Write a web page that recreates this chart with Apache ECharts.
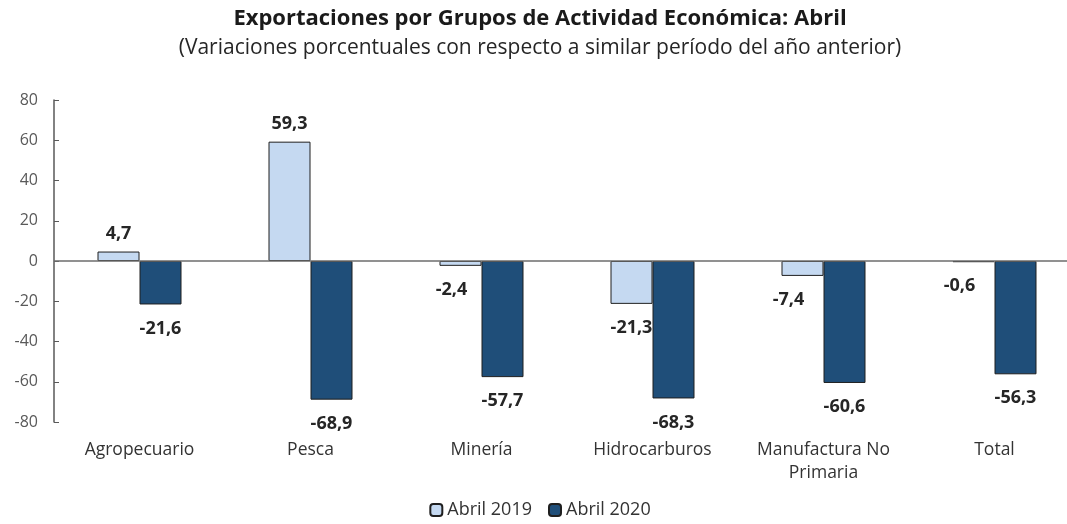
<!DOCTYPE html>
<html>
<head>
<meta charset="utf-8">
<script src="https://cdn.jsdelivr.net/npm/echarts@6/dist/echarts.min.js"></script>
<style>
  html, body { margin: 0; padding: 0; background: #fff; overflow: hidden; }
  #chart { width: 1080px; height: 524px; }
</style>
</head>
<body>
<div id="chart"></div>
<script>
// categories and values
var categories = ['Agropecuario', 'Pesca', 'Minería', 'Hidrocarburos', 'Manufactura No\nPrimaria', 'Total'];
var abril2019 = [4.7, 59.3, -2.4, -21.3, -7.4, -0.6];
var abril2020 = [-21.6, -68.9, -57.7, -68.3, -60.6, -56.3];
var seriesNames = ['Abril 2019', 'Abril 2020'];

var FONT = '"Open Sans", Lato, sans-serif';

// comma decimal like the original
function fmt(v) {
  return v.toFixed(1).replace('.', ',');
}

function barData(values) {
  return values.map(function (v) {
    return {
      value: v,
      label: v >= 0 ? { position: 'top', distance: 9 } : { position: 'bottom', distance: 15 }
    };
  });
}

var data2019 = barData(abril2019);
// a few labels are nudged left in the original
data2019[2].label.offset = [-9, 0];
data2019[4].label.offset = [-14, 0];
data2019[5].label.offset = [-14, 0];

var labelStyle = {
  show: true,
  fontFamily: FONT,
  fontWeight: 'bold',
  fontSize: 18,
  color: '#262626',
  formatter: function (p) { return fmt(p.value); }
};

var option = {
  animation: false,
  backgroundColor: '#fff',
  title: {
    left: 'center',
    top: 3,
    text: 'Exportaciones por Grupos de Actividad Económica: Abril',
    subtext: '(Variaciones porcentuales con respecto a similar período del año anterior)',
    itemGap: 8,
    textStyle: { fontFamily: FONT, fontSize: 22, fontWeight: 'bold', color: '#1a1a1a' },
    subtextStyle: { fontFamily: FONT, fontSize: 21, color: '#262626' }
  },
  legend: {
    bottom: 0,
    left: 'center',
    itemWidth: 12,
    itemHeight: 12,
    itemGap: 16,
    textStyle: { fontFamily: FONT, fontSize: 18, color: '#333' },
    data: seriesNames
  },
  grid: { left: 54, top: 100, right: 0, bottom: 102 },
  xAxis: {
    type: 'category',
    data: categories,
    axisLine: { show: false },
    axisTick: { show: false },
    axisLabel: { fontFamily: FONT, fontSize: 17.5, color: '#333', margin: 17, lineHeight: 23, interval: 0 }
  },
  yAxis: {
    type: 'value',
    min: -80,
    max: 80,
    interval: 20,
    axisLine: { show: true, lineStyle: { color: '#595959', width: 1.5 } },
    axisTick: { show: true, inside: true, length: 5, lineStyle: { color: '#595959' } },
    axisLabel: { fontFamily: FONT, fontSize: 16, color: '#595959', margin: 16 },
    splitLine: { show: false }
  },
  series: [
    {
      name: seriesNames[0],
      type: 'bar',
      barWidth: 42,
      barGap: '0%',
      data: data2019,
      itemStyle: { color: '#c5d9f1', borderColor: '#1f1f1f', borderWidth: 1 },
      label: labelStyle,
      markLine: {
        silent: true,
        symbol: 'none',
        label: { show: false },
        lineStyle: { color: '#6d6d6d', type: 'solid', width: 1.5 },
        data: [{ yAxis: 0 }]
      }
    },
    {
      name: seriesNames[1],
      type: 'bar',
      barWidth: 42,
      data: barData(abril2020),
      itemStyle: { color: '#1f4e79', borderColor: '#1f1f1f', borderWidth: 1 },
      label: labelStyle
    }
  ]
};

var myChart = echarts.init(document.getElementById('chart'), null, { renderer: 'canvas' });
myChart.setOption(option);
</script>
</body>
</html>
